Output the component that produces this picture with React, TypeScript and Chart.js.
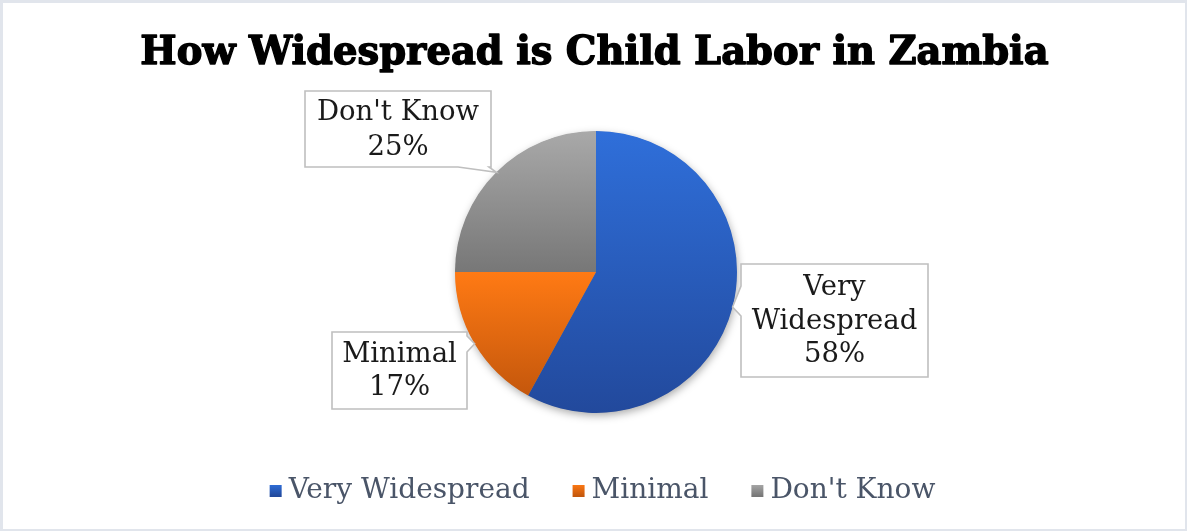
import React, { useEffect, useRef } from 'react';
import { Chart, registerables } from 'chart.js';

Chart.register(...registerables);

const TITLE = 'How Widespread is Child Labor in Zambia';
const categories = ['Very Widespread', 'Minimal', "Don't Know"];
const values = [58, 17, 25];
const labelNameLines = [['Very', 'Widespread'], ['Minimal'], ["Don't Know"]];

const topColors = ['#2F6FDA', '#FF7A14', '#A9A9A9'];
const bottomColors = ['#22499C', '#C4570C', '#777777'];

const W = 1187;
const H = 531;
const SERIF = '"DejaVu Serif", serif';

type Box = { x: number; y: number; w: number; h: number; side: 'left' | 'right' | 'bottom'; base: [number, number]; lh: number };
const calloutBoxes: Box[] = [
  { x: 741, y: 264, w: 187, h: 113, side: 'left', base: [286, 316], lh: 33.5 },
  { x: 332, y: 332, w: 135, h: 77, side: 'right', base: [336, 352], lh: 33 },
  { x: 305, y: 91, w: 186, h: 76, side: 'bottom', base: [458, 489], lh: 35 },
];

function sliceAngles(i: number) {
  const total = values.reduce((a, b) => a + b, 0);
  let acc = 0;
  for (let k = 0; k < i; k++) acc += values[k];
  const s = (acc / total) * Math.PI * 2;
  const e = ((acc + values[i]) / total) * Math.PI * 2;
  return [s, e];
}

function makeGradient(ctx: CanvasRenderingContext2D, y0: number, y1: number, i: number) {
  const g = ctx.createLinearGradient(0, y0, 0, y1);
  g.addColorStop(0, topColors[i]);
  g.addColorStop(1, bottomColors[i]);
  return g;
}

const pieDecor = {
  id: 'pieDecor',
  beforeDraw(chart: any) {
    const ctx = chart.ctx as CanvasRenderingContext2D;
    ctx.save();
    ctx.fillStyle = '#ffffff';
    ctx.fillRect(0, 0, W, H);
    ctx.restore();
  },
  beforeDatasetsDraw(chart: any) {
    const ctx = chart.ctx as CanvasRenderingContext2D;
    const arc = chart.getDatasetMeta(0).data[0];
    if (!arc) return;
    ctx.save();
    ctx.shadowColor = 'rgba(0,0,0,0.35)';
    ctx.shadowBlur = 9;
    ctx.shadowOffsetX = 1;
    ctx.shadowOffsetY = 3;
    ctx.fillStyle = '#7f7f7f';
    ctx.beginPath();
    ctx.arc(arc.x, arc.y, arc.outerRadius - 0.5, 0, Math.PI * 2);
    ctx.fill();
    ctx.restore();
  },
  afterDraw(chart: any) {
    const ctx = chart.ctx as CanvasRenderingContext2D;
    const meta = chart.getDatasetMeta(0);
    // title
    ctx.save();
    ctx.fillStyle = '#000000';
    ctx.strokeStyle = '#000000';
    ctx.lineWidth = 1.4;
    ctx.lineJoin = 'round';
    ctx.font = `bold 38.5px ${SERIF}`;
    ctx.textAlign = 'center';
    ctx.textBaseline = 'alphabetic';
    ctx.fillText(TITLE, W / 2 + 1, 64);
    ctx.strokeText(TITLE, W / 2 + 1, 64);
    ctx.restore();

    // callouts
    meta.data.forEach((arc: any, i: number) => {
      const b = calloutBoxes[i];
      const mid = (arc.startAngle + arc.endAngle) / 2;
      const tx = arc.x + Math.cos(mid) * arc.outerRadius;
      const ty = arc.y + Math.sin(mid) * arc.outerRadius;
      ctx.save();
      ctx.beginPath();
      const { x, y, w, h } = b;
      if (b.side === 'left') {
        ctx.moveTo(x, y);
        ctx.lineTo(x + w, y);
        ctx.lineTo(x + w, y + h);
        ctx.lineTo(x, y + h);
        ctx.lineTo(x, b.base[1]);
        ctx.lineTo(tx, ty);
        ctx.lineTo(x, b.base[0]);
        ctx.closePath();
      } else if (b.side === 'right') {
        ctx.moveTo(x, y);
        ctx.lineTo(x + w, y);
        ctx.lineTo(x + w, b.base[0]);
        ctx.lineTo(tx, ty);
        ctx.lineTo(x + w, b.base[1]);
        ctx.lineTo(x + w, y + h);
        ctx.lineTo(x, y + h);
        ctx.closePath();
      } else {
        ctx.moveTo(x, y);
        ctx.lineTo(x + w, y);
        ctx.lineTo(x + w, y + h);
        ctx.lineTo(b.base[1], y + h);
        ctx.lineTo(tx, ty);
        ctx.lineTo(b.base[0], y + h);
        ctx.lineTo(x, y + h);
        ctx.closePath();
      }
      ctx.fillStyle = '#ffffff';
      ctx.fill();
      ctx.strokeStyle = '#BFBFBF';
      ctx.lineWidth = 1.6;
      ctx.stroke();

      const lines = [...labelNameLines[i], `${values[i]}%`];
      ctx.fillStyle = '#1a1a1a';
      ctx.font = `27.5px ${SERIF}`;
      ctx.textAlign = 'center';
      ctx.textBaseline = 'middle';
      const cy = y + h / 2;
      const n = lines.length;
      lines.forEach((ln, k) => {
        ctx.fillText(ln, x + w / 2, cy + (k - (n - 1) / 2) * b.lh + 1);
      });
      ctx.restore();
    });

    // legend
    ctx.save();
    ctx.font = `28px ${SERIF}`;
    ctx.textBaseline = 'middle';
    ctx.textAlign = 'left';
    const box = 12;
    const gapText = 7;
    const gapItem = 43;
    const widths = categories.map((c) => ctx.measureText(c).width);
    const totalW = widths.reduce((a, wd) => a + box + gapText + wd, 0) + gapItem * (categories.length - 1);
    let lx = W / 2 + 9 - totalW / 2;
    const ly = 490;
    categories.forEach((c, i) => {
      ctx.fillStyle = makeGradient(ctx, ly - box / 2, ly + box / 2, i);
      ctx.fillRect(lx, ly - box / 2 + 1, box, box);
      ctx.fillStyle = '#4A5568';
      ctx.fillText(c, lx + box + gapText, ly + 1);
      lx += box + gapText + widths[i] + gapItem;
    });
    ctx.restore();

    // frame
    ctx.save();
    ctx.fillStyle = '#E1E5EC';
    ctx.fillRect(0, 0, W, 3);
    ctx.fillRect(0, 0, 3, H);
    ctx.fillRect(W - 2, 0, 2, H);
    ctx.fillRect(0, H - 2, W, 2);
    ctx.restore();
  },
};

export default function App() {
  const ref = useRef<HTMLCanvasElement | null>(null);
  useEffect(() => {
    if (!ref.current) return;
    const chart = new Chart(ref.current, {
      type: 'pie',
      data: {
        labels: categories,
        datasets: [
          {
            data: values,
            borderWidth: 0,
            backgroundColor: (c: any) => {
              const i = c.dataIndex;
              const ca = c.chart.chartArea;
              if (!ca) return topColors[i];
              const cx = (ca.left + ca.right) / 2;
              const cy = (ca.top + ca.bottom) / 2;
              const r = Math.min(ca.right - ca.left, ca.bottom - ca.top) / 2;
              const [s, e] = sliceAngles(i);
              const ys = [cy, cy - r * Math.cos(s), cy - r * Math.cos(e)];
              if (s <= 1e-9 || e >= Math.PI * 2 - 1e-9) ys.push(cy - r);
              if (s <= Math.PI && e >= Math.PI) ys.push(cy + r);
              return makeGradient(c.chart.ctx, Math.min(...ys), Math.max(...ys), i);
            },
          },
        ],
      },
      options: {
        responsive: false,
        animation: false,
        layout: { padding: { left: 455, right: 450, top: 131, bottom: 118 } },
        plugins: {
          legend: { display: false },
          title: { display: false },
          tooltip: { enabled: false },
        },
      },
      plugins: [pieDecor],
    });
    return () => chart.destroy();
  }, []);
  return (
    <div style={{ position: 'absolute', left: 0, top: 0, width: W, height: H }}>
      <canvas ref={ref} width={W} height={H} style={{ width: W, height: H, display: 'block' }} />
    </div>
  );
}
